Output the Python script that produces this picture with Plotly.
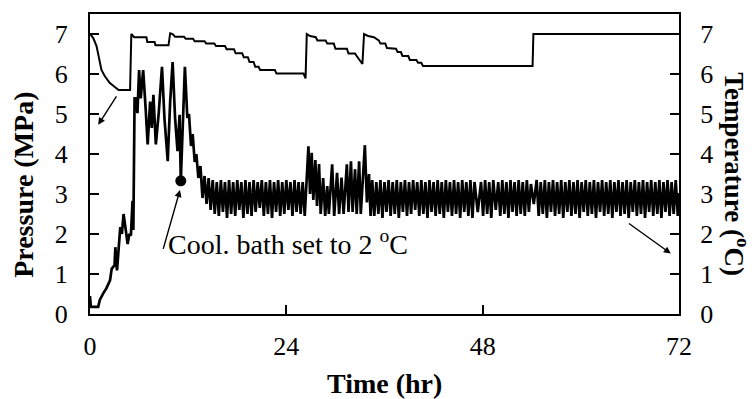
import plotly.graph_objects as go

# ---- Pressure (MPa), upper step-like line ----
pressure_time = [0, 0.4, 0.8, 1.1, 1.4, 1.8, 2.4, 3.0, 3.5, 4.9, 5.05, 5.4, 6.9, 7.0, 7.9, 8.0, 9.6, 9.8, 10.1,
                 10.4, 11.5, 11.7, 12.6, 12.8, 14.0, 14.2, 15.2, 15.4, 16.5, 16.7, 17.6, 17.8, 18.6, 18.8, 19.3,
                 19.5, 20.0, 20.2, 20.6, 20.8, 22.6, 22.8, 26.1, 26.35, 26.5, 26.9, 27.6, 27.8, 28.8, 29.0, 29.8,
                 30.0, 31.4, 31.6, 32.4, 32.6, 33.1, 33.3, 33.5, 34.0, 34.7, 35.3, 35.5, 36.1, 36.3, 37.4, 37.6,
                 38.0, 38.2, 38.9, 39.1, 39.9, 40.1, 40.5, 40.7, 54.1, 54.2, 72.0]
pressure_val = [7.0, 6.9, 6.7, 6.4, 6.1, 5.95, 5.78, 5.68, 5.6, 5.6, 7.0, 6.92, 6.92, 6.8, 6.8, 6.72, 6.72, 7.02, 7.0,
                6.93, 6.93, 6.88, 6.88, 6.82, 6.82, 6.76, 6.76, 6.7, 6.7, 6.62, 6.62, 6.52, 6.52, 6.42, 6.42,
                6.3, 6.3, 6.18, 6.18, 6.1, 6.1, 6.01, 6.01, 5.89, 7.0, 6.95, 6.92, 6.84, 6.84, 6.76, 6.76,
                6.63, 6.63, 6.51, 6.51, 6.45, 6.3, 6.25, 7.0, 6.95, 6.92, 6.84, 6.76, 6.76, 6.65, 6.63, 6.55,
                6.55, 6.45, 6.45, 6.35, 6.35, 6.28, 6.28, 6.2, 6.2, 7.0, 7.0]

# ---- Temperature (oC), lower oscillating line ----
temp_time = [
    0.0, 0.1, 1.0, 1.2, 1.6, 2.0, 2.45, 2.65, 3.0, 3.1, 3.3, 3.5, 3.7, 3.9, 4.1, 4.3, 4.6, 4.8, 5.0, 5.2, 5.3,
    5.45, 5.65, 5.8, 6.0, 6.2, 6.5, 6.8, 7.05, 7.35, 7.55, 7.75, 8.05, 8.4, 8.8, 9.1, 9.5, 9.8, 10.1, 10.4,
    10.7, 10.95, 11.1, 11.6, 11.9, 12.1, 12.35, 12.55, 12.8, 13.0, 13.25, 13.5, 13.75,
    14.0, 14.25, 14.5, 14.75, 15.0, 15.25, 15.5, 15.75, 16.0, 16.25, 16.5, 16.75, 17.0, 17.25, 17.5, 17.75,
    18.0, 18.25, 18.5, 18.75, 19.0, 19.25, 19.5, 19.75, 20.0, 20.25, 20.5, 20.75, 21.0, 21.25, 21.5, 21.75,
    22.0, 22.25, 22.5, 22.75, 23.0, 23.25, 23.5, 23.75, 24.0, 24.25, 24.5, 24.75, 25.0, 25.25, 25.5, 25.75,
    26.0, 26.25,
    26.7, 26.9, 27.1, 27.3, 27.55, 27.75, 28.0, 28.2, 28.5, 28.75, 29.0, 29.2, 29.6, 29.85, 30.2, 30.45,
    30.75, 31.0, 31.4, 31.6, 31.9, 32.1, 32.4, 32.6, 32.9, 33.1, 33.6, 33.85, 34.1, 34.3,
    34.5, 34.75, 35.0, 35.25, 35.5, 35.75, 36.0, 36.25, 36.5, 36.75, 37.0, 37.25, 37.5, 37.75, 38.0, 38.25,
    38.5, 38.75, 39.0, 39.25, 39.5, 39.75, 40.0, 40.25, 40.5, 40.75, 41.0, 41.25, 41.5, 41.75, 42.0, 42.25,
    42.5, 42.75, 43.0, 43.25, 43.5, 43.75, 44.0, 44.25, 44.5, 44.75, 45.0, 45.25, 45.5, 45.75, 46.0, 46.25,
    46.5, 46.75, 47.0, 47.4, 47.8, 48.05, 48.3, 48.55, 48.8, 49.05, 49.3, 49.6, 49.9, 50.15, 50.4, 50.65,
    50.9, 51.15, 51.4, 51.65, 51.9, 52.15, 52.4, 52.65, 52.9, 53.15, 53.4, 53.65, 53.9, 54.25, 54.6, 54.85,
    55.1, 55.35, 55.6, 55.85, 56.1, 56.35, 56.6, 56.85, 57.1, 57.35, 57.6, 57.85, 58.1, 58.35, 58.6, 58.85,
    59.1, 59.35, 59.6, 59.85, 60.1, 60.35, 60.6, 60.85, 61.1, 61.35, 61.6, 61.85, 62.1, 62.35, 62.6, 62.85,
    63.1, 63.35, 63.6, 63.85, 64.1, 64.35, 64.6, 64.85, 65.1, 65.35, 65.6, 65.85, 66.1, 66.35, 66.6, 66.85,
    67.1, 67.35, 67.6, 67.85, 68.1, 68.35, 68.6, 68.85, 69.1, 69.35, 69.6, 69.85, 70.1, 70.35, 70.6, 70.85,
    71.1, 71.35, 71.6, 71.85, 72.0]
temp_val = [
    0.45, 0.18, 0.18, 0.35, 0.51, 0.64, 0.84, 1.13, 1.22, 1.67, 1.09, 1.59, 2.17, 2.0, 2.5, 2.21, 1.75, 2.0, 1.96, 2.83, 2.1,
    5.39, 5.39, 5.02, 6.1, 5.39, 6.1, 5.14, 4.24, 5.31, 4.65, 5.48, 4.24, 5.02, 6.18, 4.9, 3.82, 5.31, 6.3, 4.9,
    4.07, 4.98, 3.33, 6.18, 4.9, 5.0, 4.2, 4.5, 3.8, 4.0, 3.4, 3.7, 2.9,
    3.45, 2.75, 3.4, 2.6, 3.35, 2.5, 3.3, 2.45, 3.35, 2.55, 3.3, 2.4, 3.35, 2.5, 3.3, 2.45,
    3.35, 2.6, 3.3, 2.4, 3.35, 2.5, 3.3, 2.45, 3.35, 2.55, 3.3, 2.65, 3.35, 2.45, 3.3, 2.5,
    3.35, 2.4, 3.3, 2.55, 3.35, 2.45, 3.3, 2.5, 3.35, 2.6, 3.3, 2.45, 3.35, 2.55, 3.3, 2.5,
    3.3, 2.45,
    4.19, 3.0, 4.03, 2.85, 3.85, 2.7, 3.75, 2.5, 3.4, 2.45, 3.2, 2.5, 3.74, 2.45, 3.53, 2.5,
    3.41, 2.5, 3.74, 2.55, 3.82, 2.55, 3.62, 2.5, 3.82, 2.5, 4.22, 2.79, 3.5, 2.45,
    3.35, 2.45, 3.3, 2.5, 3.35, 2.4, 3.3, 2.55, 3.35, 2.45, 3.3, 2.5, 3.35, 2.4, 3.3, 2.55,
    3.35, 2.45, 3.3, 2.5, 3.35, 2.6, 3.3, 2.45, 3.35, 2.5, 3.3, 2.4, 3.35, 2.55, 3.3, 2.45,
    3.35, 2.5, 3.3, 2.4, 3.35, 2.55, 3.3, 2.45, 3.35, 2.5, 3.3, 2.4, 3.35, 2.55, 3.3, 2.45,
    3.35, 2.4, 3.3, 2.55, 3.3, 2.45, 3.35, 2.5, 3.3, 2.4, 3.35, 2.6, 3.3, 2.45, 3.35, 2.5,
    3.3, 2.4, 3.35, 2.55, 3.3, 2.45, 3.35, 2.5, 3.3, 2.45, 3.35, 2.55, 3.25, 2.75, 3.35, 2.45,
    3.3, 2.5, 3.35, 2.4, 3.3, 2.55, 3.35, 2.45, 3.3, 2.5, 3.35, 2.4, 3.3, 2.55, 3.35, 2.45,
    3.3, 2.5, 3.35, 2.4, 3.3, 2.55, 3.35, 2.45, 3.3, 2.5, 3.35, 2.4, 3.3, 2.55, 3.35, 2.45,
    3.3, 2.5, 3.35, 2.4, 3.3, 2.55, 3.35, 2.45, 3.3, 2.5, 3.35, 2.4, 3.3, 2.55, 3.35, 2.45,
    3.3, 2.5, 3.35, 2.4, 3.3, 2.55, 3.35, 2.45, 3.3, 2.5, 3.35, 2.4, 3.3, 2.55, 3.35, 2.45,
    3.3, 2.5, 3.35, 2.45, 3.0]

# cooling-bath event marker
event_time = [11.1]
event_temp = [3.33]

x_ticks = [0, 24, 48, 72]
y_ticks = [0, 1, 2, 3, 4, 5, 6, 7]

FONT = "Liberation Serif, Times New Roman, serif"

fig = go.Figure()
fig.add_trace(go.Scatter(x=pressure_time, y=pressure_val, mode="lines", name="Pressure",
                         line=dict(color="black", width=2), yaxis="y"))
fig.add_trace(go.Scatter(x=temp_time, y=temp_val, mode="lines", name="Temperature",
                         line=dict(color="black", width=2.7), yaxis="y2"))
fig.add_trace(go.Scatter(x=event_time, y=event_temp, mode="markers", name="event",
                         marker=dict(color="black", size=11), yaxis="y2"))

axis_common = dict(showgrid=False, zeroline=False, showline=True, linecolor="black", linewidth=2,
                   ticks="inside", ticklen=9, tickwidth=2, tickcolor="black",
                   tickfont=dict(family=FONT, size=26, color="black"))

fig.update_layout(
    width=754, height=399,
    margin=dict(l=90, r=75, t=12, b=85),
    paper_bgcolor="white", plot_bgcolor="white",
    showlegend=False,
    xaxis=dict(range=[0, 72], tickvals=x_ticks, mirror=True, ticklabelstandoff=8, **axis_common),
    yaxis=dict(range=[0, 7.5], tickvals=y_ticks, ticklabelstandoff=15, **axis_common),
    yaxis2=dict(range=[0, 7.5], tickvals=y_ticks, overlaying="y", side="right",
                ticklabelstandoff=14, **axis_common),
)

annotations = [
    # axis titles
    dict(text="<b>Time (hr)</b>", xref="paper", yref="paper", x=0.5, y=-0.23,
         xanchor="center", yanchor="middle", showarrow=False, font=dict(family=FONT, size=28, color="black")),
    dict(text="<b>Pressure (MPa)</b>", xref="paper", yref="paper", x=-0.114, y=0.43,
         xanchor="center", yanchor="middle", textangle=-90, showarrow=False,
         font=dict(family=FONT, size=28, color="black")),
    dict(text="<b>Temperature (<sup>o</sup>C)</b>", xref="paper", yref="paper", x=1.097, y=0.465,
         xanchor="center", yanchor="middle", textangle=90, showarrow=False,
         font=dict(family=FONT, size=27, color="black")),
    # event label
    dict(text="Cool. bath set to 2 <sup>o</sup>C", xref="x", yref="y", x=9.3, y=1.78,
         xanchor="left", yanchor="middle", showarrow=False, font=dict(family=FONT, size=28, color="black")),
    # arrows
    dict(text="", xref="x", yref="y", x=1.0, y=4.73, axref="x", ayref="y", ax=3.35, ay=5.48,
         showarrow=True, arrowhead=2, arrowsize=1, arrowwidth=1.4, arrowcolor="black"),
    dict(text="", xref="x", yref="y", x=11.0, y=3.1, axref="x", ayref="y", ax=8.9, ay=1.59,
         showarrow=True, arrowhead=2, arrowsize=1, arrowwidth=1.4, arrowcolor="black"),
    dict(text="", xref="x", yref="y", x=71.0, y=1.51, axref="x", ayref="y", ax=65.7, ay=2.29,
         showarrow=True, arrowhead=2, arrowsize=1, arrowwidth=1.4, arrowcolor="black"),
]
fig.update_layout(annotations=annotations)

fig.write_html("out.html")
